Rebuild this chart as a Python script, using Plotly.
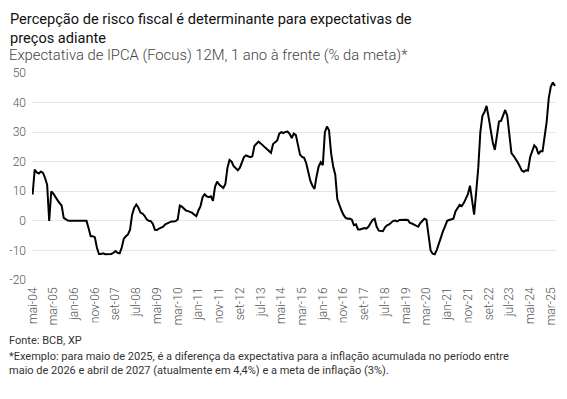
import plotly.graph_objects as go

MONTHS_PT = ["jan", "fev", "mar", "abr", "mai", "jun", "jul", "ago", "set", "out", "nov", "dez"]

# monthly categories from mai-04 to mai-25
start_year, start_month = 2004, 5
n_points = 253
categories = []
for i in range(n_points):
    mi = start_month - 1 + i
    y = start_year + mi // 12
    m = mi % 12
    categories.append(f"{MONTHS_PT[m]}-{str(y)[2:]}")

values = [
    8.9, 17.3, 16.4, 16.0, 16.7, 16.2, 14.5, 12.2, 0.0, 10.0,
    9.2, 8.3, 7.0, 6.0, 5.2, 1.0, 0.6, 0.1, 0.0, 0.0,
    0.0, 0.0, 0.0, 0.0, 0.0, 0.0, 0.0, -2.5, -5.2, -5.2,
    -5.5, -9.0, -11.2, -11.2, -11.0, -11.3, -11.2, -11.3, -11.2, -10.8,
    -10.2, -10.8, -11.0, -9.0, -6.0, -5.2, -4.6, -3.0, 2.1, 4.4,
    5.5, 4.5, 2.8, 2.5, 1.7, 0.5, 0.0, -0.1, -1.0, -3.0,
    -3.1, -2.6, -2.2, -2.0, -1.2, -0.8, -0.4, -0.2, -0.2, -0.1,
    0.5, 5.2, 4.8, 4.2, 3.5, 3.3, 3.0, 2.7, 2.1, 1.6,
    3.5, 5.0, 8.0, 9.0, 8.3, 8.0, 8.3, 6.8, 11.5, 13.3,
    12.3, 11.6, 11.1, 12.5, 18.0, 20.6, 20.0, 18.5, 17.8, 17.1,
    18.0, 19.5, 21.6, 22.1, 21.9, 21.5, 21.8, 25.3, 26.1, 26.8,
    26.2, 25.6, 25.0, 24.3, 23.7, 23.0, 26.0, 26.5, 27.2, 29.5,
    30.0, 29.7, 30.1, 30.2, 29.4, 28.0, 29.5, 29.0, 26.0, 22.4,
    21.6, 21.3, 19.5, 16.5, 13.5, 11.9, 10.8, 15.1, 18.4, 19.8,
    18.8, 30.0, 31.9, 30.6, 22.9, 18.4, 15.6, 7.4, 5.3, 3.5,
    2.0, 1.0, 0.7, 0.8, 0.4, -1.5, -1.2, -2.9, -2.9, -2.7,
    -2.4, -2.6, -2.0, -0.8, 0.3, 0.7, -2.0, -3.3, -3.5, -3.5,
    -2.2, -1.5, -1.2, -0.5, 0.0, 0.1, -0.2, 0.3, 0.4, 0.4,
    0.4, 0.3, -0.7, -0.9, -1.2, -1.6, -2.0, -0.8, 0.0, 0.7,
    0.4, -5.7, -10.0, -11.1, -11.3, -9.8, -7.5, -5.8, -3.5, -1.8,
    0.0, 0.3, 0.4, 0.7, 3.2, 4.5, 5.4, 5.0, 6.0, 7.5,
    9.0, 11.9, 6.0, 2.1, 9.8, 18.0, 30.0, 35.5, 36.8, 38.9,
    35.0, 31.0, 26.5, 24.0, 28.5, 33.6, 33.8, 35.8, 37.5, 35.5,
    29.0, 22.9, 22.0, 21.0, 19.8, 18.5, 17.0, 16.6, 17.1, 17.0,
    21.5, 23.5, 25.5, 24.8, 22.6, 23.5, 23.5, 28.5, 33.5, 41.5,
    45.4, 46.8, 45.6,
]

tick_labels = categories[::10]
y_ticks = [-20, -10, 0, 10, 20, 30, 40, 50]
y_tick_labels = ["-20", "-10", "0", "10", "20", "30", "40", "50"]

title_text = "Percepção de risco fiscal é determinante para expectativas de<br>preços adiante"
subtitle_text = "Expectativa de IPCA (Focus) 12M, 1 ano à frente (% da meta)*"
source_text = "Fonte: BCB, XP"
note_text = ("*Exemplo: para maio de 2025, é a diferença da expectativa para a inflação acumulada no período entre<br>"
             "maio de 2026 e abril de 2027 (atualmente em 4,4%) e a meta de inflação (3%).")

fig = go.Figure()
fig.add_trace(go.Scatter(
    x=list(range(n_points)), y=values, mode="lines",
    line=dict(color="#000000", width=2),
    hoverinfo="skip",
))

# the page body adds an 8px offset; work in page pixels and compensate
OFF = 8
PAGE_W, PAGE_H = 567, 399
W, H = PAGE_W - OFF, PAGE_H - OFF
PL, PR, PT, PB = 32, 556, 73, 280  # plot area in page pixels
L, R, T, B = PL - OFF, PAGE_W - PR, PT - OFF, PAGE_H - PB
pw, ph = PR - PL, PB - PT

def px(xp):
    return (xp - PL) / pw

def py(yp):
    return (PB - yp) / ph

fig.update_layout(
    width=W, height=H,
    margin=dict(l=L, r=R, t=T, b=B, autoexpand=False),
    paper_bgcolor="white", plot_bgcolor="white",
    showlegend=False,
    font=dict(family="Roboto", color="#555555"),
    xaxis=dict(
        range=[-0.3, 252.5],
        tickmode="array",
        tickvals=list(range(0, n_points, 10)),
        ticktext=tick_labels,
        tickangle=-90,
        tickfont=dict(size=12, color="#555555", weight=300),
        ticklabelstandoff=4,
        showgrid=False, zeroline=False, showline=False,
        ticks="", automargin=False,
    ),
    yaxis=dict(
        range=[-20, 50],
        tickmode="array",
        tickvals=y_ticks,
        ticktext=y_tick_labels,
        tickfont=dict(size=12, color="#555555", weight=300),
        ticklabelstandoff=5,
        showgrid=True, gridcolor="#e6e6e6", gridwidth=1,
        zeroline=False, showline=False, ticks="", automargin=False,
    ),
    annotations=[
        dict(text=title_text, x=px(8), y=py(8), xref="paper", yref="paper",
             xanchor="left", yanchor="top", align="left", showarrow=False,
             font=dict(size=14.6, color="#111111", family="Roboto")),
        dict(text=subtitle_text, x=px(7), y=py(55), xref="paper", yref="paper",
             xanchor="left", yanchor="middle", align="left", showarrow=False,
             font=dict(size=14.8, color="#444444", family="Roboto", weight=300)),
        dict(text=source_text, x=px(7), y=py(340), xref="paper", yref="paper",
             xanchor="left", yanchor="middle", align="left", showarrow=False,
             font=dict(size=11, color="#333333", family="Roboto")),
        dict(text=note_text, x=px(7), y=py(348), xref="paper", yref="paper",
             xanchor="left", yanchor="top", align="left", showarrow=False,
             font=dict(size=11, color="#333333", family="Roboto")),
    ],
)

fig.write_html("out.html")
